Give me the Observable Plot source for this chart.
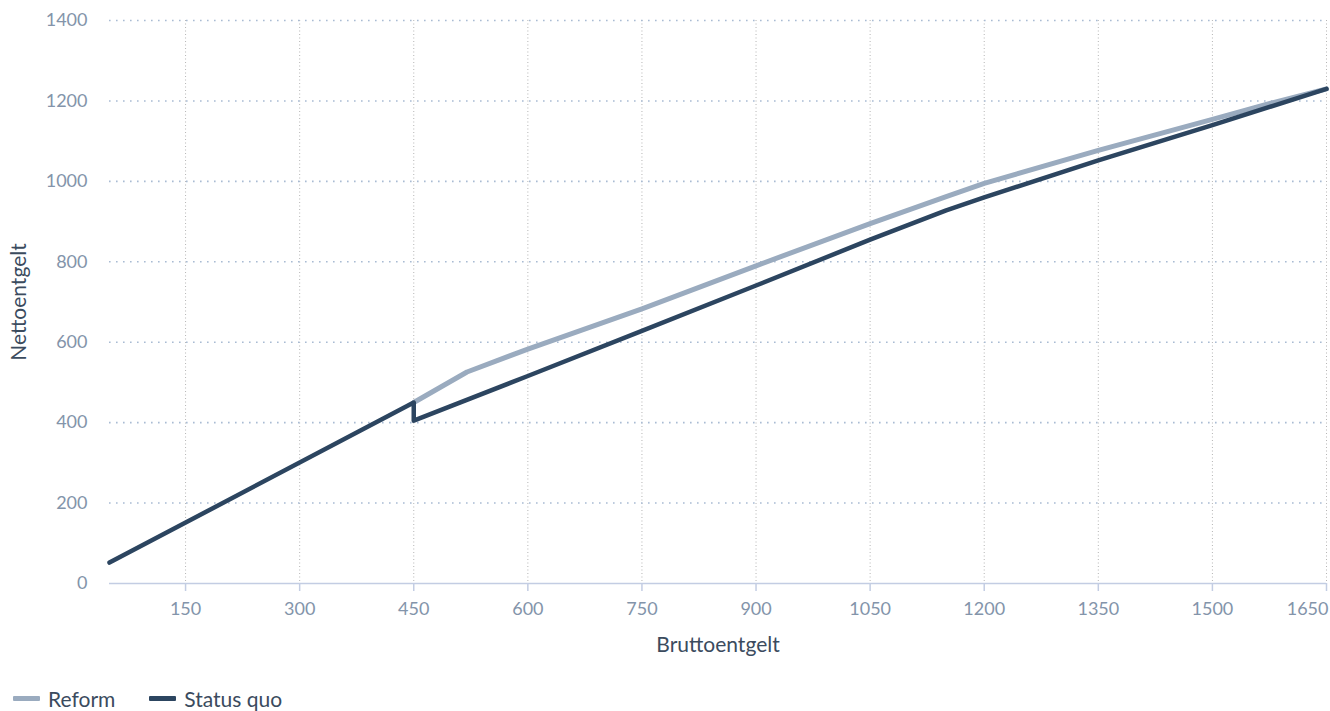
<!DOCTYPE html>
<html>
<head>
<meta charset="utf-8">
<script src="https://cdn.jsdelivr.net/npm/d3@7"></script>
<script src="https://cdn.jsdelivr.net/npm/@observablehq/plot@0.6"></script>
<style>
  html, body { margin: 0; padding: 0; background: #fff; }
  body { width: 1330px; height: 711px; overflow: hidden; font-family: Lato, "Open Sans", sans-serif; }
  #legend { display: flex; align-items: center; margin-top: 16px; margin-left: 13px; font-size: 21px; color: #3b4b5e; }
  .item { display: flex; align-items: center; margin-right: 34px; }
  .sw { width: 27px; height: 5px; margin-right: 8px; border-radius: 1px; }
</style>
</head>
<body>
<div id="chart"></div>
<div id="legend"></div>
<script>
const seriesNames = ["Reform", "Status quo"];
const seriesColors = ["#9aabbf", "#2c4560"];

const reformGross = [450, 520, 600, 750, 900, 1050, 1150, 1200, 1350, 1500, 1580, 1650];
const reformNet   = [450, 526, 583, 683, 790, 895, 962, 995, 1077, 1154, 1196, 1230];

const statusGross = [50, 450, 450, 600, 750, 900, 1050, 1150, 1200, 1350, 1500, 1650];
const statusNet   = [52, 450, 405, 516, 628, 741, 855, 928, 960, 1052, 1140, 1230];

const xTicks = [150, 300, 450, 600, 750, 900, 1050, 1200, 1350, 1500, 1650];
const yTicks = [0, 200, 400, 600, 800, 1000, 1200, 1400];

const reform = reformGross.map((g, i) => ({g, n: reformNet[i]}));
const status = statusGross.map((g, i) => ({g, n: statusNet[i]}));

const plot = Plot.plot({
  width: 1330,
  height: 670,
  marginLeft: 109,
  marginRight: 4,
  marginTop: 20,
  marginBottom: 87,
  style: {fontFamily: "Lato, sans-serif", fontSize: "18px", background: "#fff"},
  x: {domain: [50, 1650]},
  y: {domain: [0, 1400]},
  marks: [
    Plot.ruleX(xTicks, {stroke: "#b5b5b5", strokeWidth: 1, strokeDasharray: "1,2.5"}),
    Plot.ruleY(yTicks.filter(d => d > 0), {stroke: "#a9bbd3", strokeWidth: 1.6, strokeDasharray: "1.6,5.4"}),
    Plot.ruleY([0], {stroke: "#c3cde3", strokeWidth: 1.5}),
    Plot.axisX(xTicks, {
      tickSize: 8, tickPadding: 11, stroke: "#c3cde3", strokeWidth: 1.5,
      color: "#8394aa", fontSize: 18, tickFormat: d => String(d),
      label: "Bruttoentgelt", labelAnchor: "center", labelArrow: "none", labelOffset: 68
    }),
    Plot.axisY(yTicks, {
      tickSize: 0, tickPadding: 22, color: "#8394aa", fontSize: 18, tickFormat: d => String(d),
      label: "Nettoentgelt", labelAnchor: "center", labelArrow: "none", labelOffset: 98
    }),
    Plot.line(reform, {x: "g", y: "n", stroke: seriesColors[0], strokeWidth: 5, curve: "linear"}),
    Plot.line(status, {x: "g", y: "n", stroke: seriesColors[1], strokeWidth: 4.5, curve: "linear"})
  ]
});
document.getElementById("chart").appendChild(plot);

// style axis labels
plot.querySelectorAll("[aria-label='x-axis label'] text, [aria-label='y-axis label'] text").forEach(t => {
  t.setAttribute("fill", "#3b4b5e");
  t.style.fontSize = "21px";
});
// keep the last x tick label inside the frame
const xt = plot.querySelectorAll("[aria-label='x-axis tick label'] text");
if (xt.length) {
  const last = xt[xt.length - 1];
  last.setAttribute("text-anchor", "end");
  last.setAttribute("dx", "2");
}

const legend = document.getElementById("legend");
seriesNames.forEach((name, i) => {
  const item = document.createElement("div");
  item.className = "item";
  const sw = document.createElement("div");
  sw.className = "sw";
  sw.style.background = seriesColors[i];
  const lbl = document.createElement("span");
  lbl.textContent = name;
  item.appendChild(sw);
  item.appendChild(lbl);
  legend.appendChild(item);
});
</script>
</body>
</html>
